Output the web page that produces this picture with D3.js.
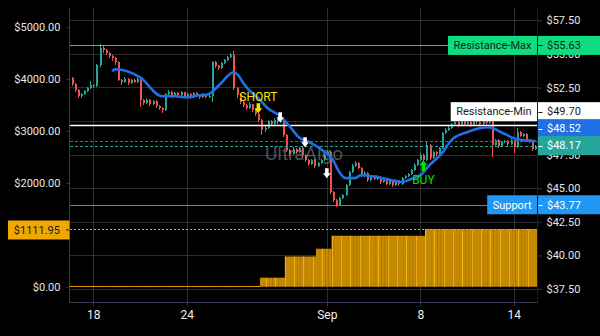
<!DOCTYPE html>
<html><head><meta charset="utf-8">
<script src="https://cdn.jsdelivr.net/npm/d3@7"></script>
<style>
html,body{margin:0;padding:0;background:#000;}
svg{display:block;}
text{font-family:Roboto,"Liberation Sans",sans-serif;}
</style></head><body>
<svg id="c" width="600" height="336"></svg>
<script>
// ---------- DATA ----------
const firstOpen = 53.19;
const closes = [52.74,52.30,51.85,52.00,52.22,52.44,52.67,52.59,54.15,55.42,
 55.27,55.05,54.82,54.67,54.38,53.04,52.89,53.11,52.82,53.04,
 52.89,53.11,51.55,51.33,51.55,51.25,51.48,51.11,50.96,50.81,
 52.00,52.15,51.85,52.07,51.92,52.15,51.85,52.00,51.77,52.07,
 51.92,51.77,52.00,51.77,51.85,54.38,54.08,53.93,54.30,54.53,
 54.75,54.90,52.44,51.92,51.40,51.18,50.96,51.25,50.81,50.51,
 50.07,49.32,49.47,49.99,49.77,50.07,49.92,50.14,48.95,47.83,
 47.54,47.91,47.69,47.98,47.46,47.09,46.79,47.09,46.64,46.87,
 47.09,47.46,47.69,44.71,44.12,43.75,44.27,44.49,45.23,46.20,
 46.64,46.87,46.50,45.90,46.12,45.60,45.90,45.68,45.83,45.46,
 45.60,45.31,45.53,45.23,45.60,45.31,45.75,45.90,46.05,46.35,
 46.72,47.09,47.46,47.09,48.21,47.24,47.69,47.54,47.98,49.10,
 49.32,49.47,49.77,49.92,49.69,49.99,49.77,49.92,49.69,50.21,
 49.92,49.77,49.99,49.84,50.14,48.21,48.58,48.13,48.43,48.50,
 48.28,48.58,48.06,49.17,48.88,49.02,48.58,48.50,47.91,48.17];
const highs = [53.30,52.80,52.38,52.10,52.30,52.55,52.95,52.75,54.25,55.72,
 55.60,55.35,55.12,54.95,54.75,54.45,53.15,53.30,53.20,53.15,
 53.10,53.25,53.18,51.65,51.70,51.62,51.60,51.55,51.20,51.05,
 52.10,52.30,52.22,52.20,52.15,52.25,52.20,52.12,52.08,52.20,
 52.15,52.00,52.10,52.05,51.95,54.50,54.45,54.15,54.40,54.62,
 54.85,55.05,55.20,52.50,52.00,51.50,51.25,51.45,51.30,50.90,
 50.60,50.12,49.60,50.10,50.05,50.20,50.15,50.30,50.20,49.02,
 47.92,48.05,48.00,48.10,48.05,47.55,47.15,47.20,47.15,46.98,
 47.20,47.58,47.85,47.75,44.80,44.20,44.35,44.60,45.35,46.30,
 46.80,47.05,46.95,46.58,46.25,46.20,46.00,45.98,45.95,45.90,
 45.72,45.68,45.65,45.60,45.72,45.65,45.85,46.00,46.15,46.45,
 46.85,47.20,47.60,47.55,48.43,48.30,47.80,47.78,48.10,49.22,
 49.45,49.60,49.88,50.05,50.00,50.15,50.08,50.05,49.98,50.44,
 50.28,50.00,50.10,50.05,50.35,50.20,48.70,48.65,48.55,48.62,
 48.58,48.68,48.62,49.47,49.25,49.12,49.08,48.70,48.55,48.25];
const lows = [52.60,52.15,51.70,51.75,51.92,52.15,52.38,52.45,52.52,54.05,
 55.10,54.90,54.70,54.50,54.20,52.95,52.70,52.82,52.70,52.75,
 52.80,52.82,51.03,51.20,51.25,51.15,51.18,51.00,50.85,50.59,
 50.75,51.90,51.75,51.78,51.82,51.85,51.72,51.78,51.62,51.70,
 51.80,51.65,51.70,51.68,51.70,51.40,53.95,53.80,53.85,54.22,
 54.45,54.68,52.30,51.75,51.25,51.05,50.85,50.90,50.70,50.40,
 49.95,48.95,49.20,49.40,49.65,49.70,49.80,49.85,48.85,47.70,
 47.40,47.48,47.58,47.60,47.35,46.98,46.65,46.72,46.52,46.58,
 46.80,47.00,47.40,44.55,44.00,43.60,43.68,44.20,44.42,45.15,
 46.12,46.55,46.40,45.80,45.82,45.50,45.52,45.58,45.60,45.35,
 45.38,45.22,45.25,45.12,45.15,45.20,45.25,45.68,45.82,45.98,
 46.28,46.65,47.00,46.95,47.02,47.10,47.15,47.42,47.48,47.90,
 49.00,49.25,49.40,49.70,49.58,49.62,49.65,49.70,49.58,49.62,
 49.80,49.65,49.70,49.72,49.78,47.31,48.10,48.02,48.05,48.35,
 48.18,48.20,47.61,48.00,48.78,48.80,48.48,48.38,47.80,47.85];

const maIdx = [13,14,22,29,33,37,41,44,45,48,52,54,55,57,60,63,67,70,73,77,81,84,86,88,91,93,96,100,104,106,109,112,115,119,122,127,131,134,138,142,145,149];
const maVal = [53.71,53.86,53.26,51.85,51.85,51.77,51.92,52.00,52.15,52.82,53.63,53.26,52.89,52.30,51.70,50.96,50.36,49.62,48.80,48.36,47.76,47.09,46.20,45.75,45.75,45.98,45.90,45.75,45.53,45.46,45.68,45.98,46.72,47.61,48.58,49.17,49.47,49.54,49.17,48.73,48.58,48.52];

const eqStartIdx = [0,61,69,79,84,114];
const eqVal = [0,173,582,731,981,1111.95];

const dateTickIdx = [7,37,82,112,142];
const dateTickLabels = ["18","24","Sep","8","14"];
const priceTicks = [57.5,55,52.5,50,47.5,45,42.5,40,37.5];
const equityTicks = [0,1000,2000,3000,4000,5000];

const levelNames = ["Resistance-Max","Resistance-Min","Support"];
const levelValues = [55.63,49.70,43.77];
const lastPrice = 48.17;
const maLast = 48.52;
const equityLast = 1111.95;

const markerIdx = [60,67,75,82,113];
const markerPrice = [50.59,49.92,48.06,45.75,47.09];
const markerDir = ["down","down","down","down","up"];
const markerText = ["SHORT","","","","BUY"];
const markerColor = ["#f2e600","#ffffff","#ffffff","#ffffff","#00e600"];

// ---------- CHART ----------
const W=600,H=336, plotL=69.5, plotR=537.5, plotT=8, plotB=302.5;
const N = closes.length;
const opens = closes.map((c,i)=> i===0 ? firstOpen : closes[i-1]);
const x = d3.scaleLinear().domain([-0.5, N-0.5]).range([70, 537]);
const yP = d3.scaleLinear().domain([37.5,57.5]).range([289,20.3]);
const yE = d3.scaleLinear().domain([0,5000]).range([286.7,27.2]);
const svg = d3.select('#c');
svg.append('rect').attr('width',W).attr('height',H).attr('fill','#000');
const crisp = v => Math.round(v)+0.5;

// grid
const grid = svg.append('g').attr('stroke','#2c2c33').attr('stroke-width',1);
grid.selectAll('line.h').data(priceTicks).join('line')
  .attr('x1',plotL).attr('x2',plotR).attr('y1',d=>crisp(yP(d))).attr('y2',d=>crisp(yP(d)));
grid.selectAll('line.v').data(dateTickIdx).join('line')
  .attr('x1',d=>crisp(x(d))).attr('x2',d=>crisp(x(d))).attr('y1',plotT).attr('y2',plotB+4);

// equity histogram
const eqValue = d3.range(N).map(i => eqVal[d3.bisectRight(eqStartIdx, i)-1]);
const bw = x(1)-x(0);
const eqG = svg.append('g');
eqG.selectAll('rect').data(eqValue).join('rect')
  .attr('x',(d,i)=>x(i)-bw/2).attr('width',bw+0.3)
  .attr('y',d=> d>0 ? yE(d) : 286)
  .attr('height',d=> d>0 ? yE(0)-yE(d) : 1)
  .attr('fill',d=> d>0 ? '#c48a00' : '#e0a000');
eqG.selectAll('line').data(eqValue.map((v,i)=>({v,i})).filter(d=>d.i%3===0 && d.v>0)).join('line')
  .attr('x1',d=>Math.round(x(d.i)-bw/2)+0.5).attr('x2',d=>Math.round(x(d.i)-bw/2)+0.5)
  .attr('y1',d=>yE(d.v)).attr('y2',yE(0)).attr('stroke','#f0aa10').attr('stroke-width',1);
// equity last dashed line
svg.append('line').attr('x1',70).attr('x2',plotR).attr('y1',crisp(yE(equityLast))).attr('y2',crisp(yE(equityLast)))
  .attr('stroke','#f0b000').attr('stroke-dasharray','2,2');

// candles
const cg = svg.append('g').attr('shape-rendering','crispEdges');
const up = i => closes[i] >= opens[i];
cg.selectAll('line').data(d3.range(N)).join('line')
  .attr('x1',i=>Math.round(x(i))+0.5).attr('x2',i=>Math.round(x(i))+0.5)
  .attr('y1',i=>yP(highs[i])).attr('y2',i=>yP(lows[i]))
  .attr('stroke',i=>up(i)?'#26a69a':'#ef5350');
cg.selectAll('rect').data(d3.range(N)).join('rect')
  .attr('x',i=>Math.round(x(i))-0.5).attr('width',2)
  .attr('y',i=>yP(Math.max(opens[i],closes[i])))
  .attr('height',i=>Math.max(1,Math.abs(yP(opens[i])-yP(closes[i]))))
  .attr('fill',i=>up(i)?'#26a69a':'#ef5350');

// watermark (over candles, semi-transparent)
svg.append('text').attr('x',304).attr('y',153).attr('text-anchor','middle').attr('dy','0.35em')
  .attr('font-size',19).attr('fill','#8a8a8a').attr('fill-opacity',0.6).text('UltraAlgo');

// level lines
const levelColors = ['#00e676','#ffffff','#2f8fe8'];
levelValues.forEach((v,k)=>{
  svg.append('line').attr('x1',70).attr('x2',plotR).attr('y1',crisp(yP(v))).attr('y2',crisp(yP(v)))
    .attr('stroke',levelColors[k]).attr('stroke-width',k===1?1.5:1.2);
});
svg.append('line').attr('x1',70).attr('x2',plotR).attr('y1',crisp(yP(maLast))).attr('y2',crisp(yP(maLast)))
  .attr('stroke','#2273e8').attr('stroke-dasharray','3,2');
svg.append('line').attr('x1',70).attr('x2',plotR).attr('y1',crisp(yP(lastPrice))).attr('y2',crisp(yP(lastPrice)))
  .attr('stroke','#26a69a').attr('stroke-dasharray','3,2');

// MA line
svg.append('path').datum(maIdx.map((d,k)=>[d,maVal[k]]))
  .attr('d', d3.line().x(d=>x(d[0])).y(d=>yP(d[1])).curve(d3.curveMonotoneX))
  .attr('fill','none').attr('stroke','#1f6fe5').attr('stroke-width',2.6).attr('stroke-linejoin','round');

// markers
markerIdx.forEach((mi,k)=>{
  const cx = x(mi), ty = yP(markerPrice[k]), col = markerColor[k];
  let p;
  if (markerDir[k]==='down') {
    p = `M${cx-1.8},${ty-10}L${cx+1.8},${ty-10}L${cx+1.8},${ty-5}L${cx+3.8},${ty-5}L${cx},${ty}L${cx-3.8},${ty-5}L${cx-1.8},${ty-5}Z`;
  } else {
    p = `M${cx-1.8},${ty+11}L${cx+1.8},${ty+11}L${cx+1.8},${ty+5}L${cx+3.8},${ty+5}L${cx},${ty}L${cx-3.8},${ty+5}L${cx-1.8},${ty+5}Z`;
  }
  svg.append('path').attr('d',p).attr('fill',col);
  if (markerText[k]) {
    const ty2 = markerDir[k]==='down' ? ty-12 : ty+24;
    svg.append('text').attr('x',cx).attr('y',ty2).attr('text-anchor','middle')
      .attr('font-size',12).attr('fill',col).text(markerText[k]);
  }
});

// axes borders
svg.append('line').attr('x1',plotL).attr('x2',plotL).attr('y1',plotT).attr('y2',plotB).attr('stroke','#3a3a52');
svg.append('line').attr('x1',plotR).attr('x2',plotR).attr('y1',plotT).attr('y2',plotB).attr('stroke','#3a3a52');
svg.append('line').attr('x1',plotL).attr('x2',plotR).attr('y1',plotB).attr('y2',plotB).attr('stroke','#3a3a52');

// right axis (labels fully hidden under price boxes are not drawn)
const hiddenPrice = [50];
const rAxis = svg.append('g').attr('transform',`translate(${plotR},0)`)
  .call(d3.axisRight(yP).tickValues(priceTicks).tickSize(4).tickPadding(5)
    .tickFormat(d=> hiddenPrice.includes(d) ? '' : '$'+d.toFixed(2)));
rAxis.select('.domain').remove();
rAxis.selectAll('line').attr('stroke','#3a3a52');
rAxis.selectAll('text').attr('fill','#e6e6e6').attr('font-size',11).attr('font-family','Roboto');

// left axis
const hiddenEq = [1000];
const lAxis = svg.append('g').attr('transform',`translate(${plotL},0)`)
  .call(d3.axisLeft(yE).tickValues(equityTicks).tickSize(3).tickPadding(6)
    .tickFormat(d=> hiddenEq.includes(d) ? '' : '$'+d.toFixed(2)));
lAxis.select('.domain').remove();
lAxis.selectAll('line').attr('stroke','#3a3a52');
lAxis.selectAll('text').attr('fill','#e6e6e6').attr('font-size',11).attr('font-family','Roboto');

// bottom axis
const bAxis = svg.append('g').attr('transform',`translate(0,${plotB})`)
  .call(d3.axisBottom(x).tickValues(dateTickIdx).tickSize(0).tickPadding(8).tickFormat((d,i)=>dateTickLabels[i]));
bAxis.select('.domain').remove();
bAxis.selectAll('text').attr('fill','#f0f0f0').attr('font-size',12).attr('font-family','Roboto');

// equity label (left)
{
  const yc = yE(equityLast);
  svg.append('rect').attr('x',8).attr('y',yc-9.5+1).attr('width',61.5).attr('height',19).attr('fill','#f0a800');
  svg.append('line').attr('x1',66).attr('x2',69.5).attr('y1',yc+1).attr('y2',yc+1).attr('stroke','#1a1a1a');
  svg.append('text').attr('x',60).attr('y',yc+1).attr('dy','0.35em').attr('text-anchor','end')
    .attr('font-size',11).attr('fill','#1a1a1a').text('$'+equityLast.toFixed(2));
}

// right price labels with collision avoidance
const labels = [
  {v:levelValues[0], bg:'#0fdc80', fg:'#0b2a18', name:levelNames[0]},
  {v:levelValues[1], bg:'#ffffff', fg:'#1a1a1a', name:levelNames[1]},
  {v:maLast, bg:'#1f6fe5', fg:'#ffffff', name:null},
  {v:lastPrice, bg:'#26a69a', fg:'#ffffff', name:null},
  {v:levelValues[2], bg:'#2196f3', fg:'#ffffff', name:levelNames[2]},
];
labels.forEach(l=>l.y=yP(l.v));
const sorted = labels.slice().sort((a,b)=>b.y-a.y);
for (let k=1;k<sorted.length;k++){
  if (sorted[k].y > sorted[k-1].y - 17) sorted[k].y = sorted[k-1].y - 17;
}
labels.forEach(l=>{
  const yc = l.y;
  svg.append('rect').attr('x',plotR+0.5).attr('y',yc-9.5).attr('width',W-plotR).attr('height',19).attr('fill',l.bg);
  svg.append('line').attr('x1',plotR+1).attr('x2',plotR+5).attr('y1',Math.round(yc)+0.5).attr('y2',Math.round(yc)+0.5).attr('stroke',l.fg);
  svg.append('text').attr('x',547).attr('y',yc).attr('dy','0.35em')
    .attr('font-size',11).attr('fill',l.fg).text('$'+l.v.toFixed(2));
  if (l.name){
    const t = svg.append('text').attr('y',yc).attr('dy','0.35em').attr('text-anchor','middle')
      .attr('font-size',11).attr('fill',l.fg).text(l.name);
    const tw = t.node().getComputedTextLength();
    const bwid = tw + 11;
    svg.insert('rect', () => t.node()).attr('x',plotR-0.5-bwid).attr('y',yc-9.5).attr('width',bwid).attr('height',19).attr('fill',l.bg);
    t.attr('x',plotR-0.5-bwid/2);
  }
});
// redraw right border on top
svg.append('line').attr('x1',plotR).attr('x2',plotR).attr('y1',plotT).attr('y2',plotB).attr('stroke','#1c1c28');
</script>
</body></html>
